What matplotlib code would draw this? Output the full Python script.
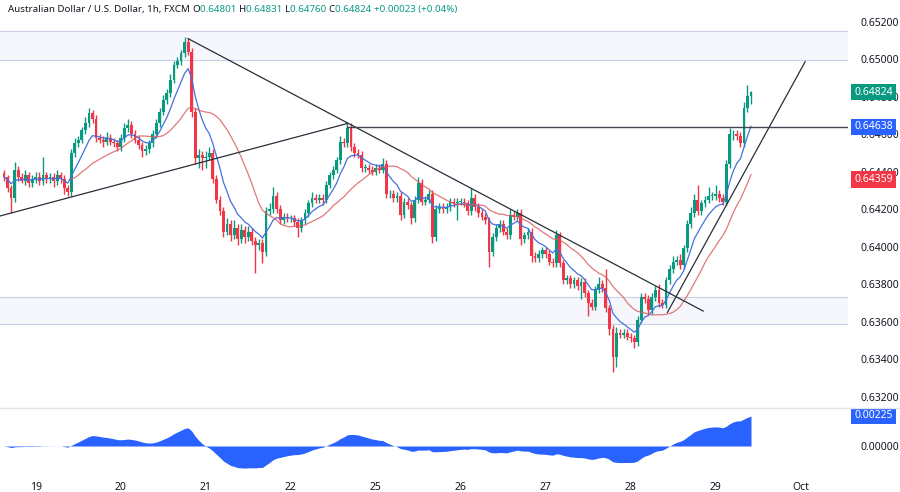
import numpy as np
import pandas as pd
import matplotlib
matplotlib.use("Agg")
import matplotlib.pyplot as plt
import matplotlib.transforms as mtrans
from matplotlib.lines import Line2D

plt.rcParams['font.family'] = ['Noto Sans', 'DejaVu Sans']

############################################################################
# Data : AUD/USD 1h, FXCM.  prices written as pips above BASE
############################################################################
BASE = 0.6400

first_open = 39
c18 = [37, 31, 26, 41, 37, 35, 38, 34, 36]
c19 = [37, 35, 38, 36, 37, 35, 38, 36, 31, 29, 50, 55, 57, 62, 66, 71,
       68, 58, 57, 56, 58, 56, 55, 53]
c20 = [58, 63, 65, 60, 57, 54, 51, 52, 55, 60, 66, 72, 78, 82, 89, 97,
       99, 103, 109, 104, 72, 47, 49, 47]
c21 = [48, 50, 36, 25, 19, 8, 12, 6, 10, 4, 9, 5, 8, 3, 1, 2,
       -3, 19, 20, 27, 20, 14, 16, 15]
c22 = [15, 13, 10, 14, 18, 23, 26, 25, 26, 25, 33, 38, 41, 46, 56, 55,
       63, 53, 50, 49, 42, 42, 41, 40]
c25 = [42, 41, 44, 28, 28, 26, 27, 17, 24, 22, 15, 25, 34, 24, 25, 28,
       5, 20, 21, 20, 21, 24, 23, 24]
c26 = [24, 23, 19, 26, 21, 18, 16, 14, -3, 5, 10, 12, 8, 6, 17, 16,
       18, 4, 6, 8, -5, -6, -4, -2]
c27 = [-4, -8, -9, 6, -9, -18, -17, -20, -18, -21, -19, -25, -30, -32, -23, -20,
       -22, -33, -44, -59, -46, -47, -46, -48]
c28 = [-49, -51, -39, -27, -28, -34, -27, -23, -30, -31, -18, -12, -8, -7, -10, -1,
       12, 18, 25, 19, 23, 25, 27, 27]
c29 = [28, 26, 24, 44, 60, 60, 59, 55, 74, 80.1, 82.4]

# wick length above / below the body (pips)
u18 = [2, 1, 2, 4, 2, 2, 3, 2, 2]
d18 = [2, 2, 8, 2, 2, 1, 2, 2, 2]
u19 = [3, 3, 10, 2, 2, 2, 3, 2, 2, 2, 2, 3, 2, 2, 3, 3, 2, 2, 2, 2, 3, 2, 2, 2]
d19 = [2, 2, 2, 2, 2, 3, 2, 2, 3, 2, 2, 2, 2, 2, 2, 2, 2, 2, 2, 3, 2, 2, 2, 2]
u20 = [2, 3, 3, 2, 2, 2, 2, 2, 2, 2, 2, 2, 3, 2, 3, 2, 2, 2, 3, 2, 2, 2, 3, 2]
d20 = [2, 2, 2, 2, 2, 2, 3, 2, 2, 2, 2, 2, 2, 2, 2, 2, 2, 2, 2, 2, 3, 3, 5, 6]
u21 = [3, 3, 2, 2, 2, 2, 3, 2, 4, 2, 3, 2, 3, 2, 2, 2, 2, 2, 3, 5, 2, 2, 2, 2]
d21 = [5, 2, 2, 2, 2, 3, 2, 3, 2, 3, 2, 3, 2, 2, 15, 3, 6, 2, 2, 2, 2, 2, 2, 2]
u22 = [2, 2, 2, 2, 2, 2, 3, 2, 2, 2, 2, 2, 2, 2, 3, 2, 3, 3, 2, 2, 2, 2, 2, 2]
d22 = [2, 2, 5, 2, 2, 2, 2, 2, 2, 3, 2, 2, 2, 2, 2, 2, 2, 2, 2, 2, 2, 2, 2, 2]
u25 = [2, 2, 3, 2, 2, 2, 2, 2, 2, 2, 2, 2, 3, 2, 2, 2, 2, 2, 2, 2, 2, 2, 2, 2]
d25 = [2, 2, 2, 2, 2, 2, 2, 3, 2, 2, 3, 2, 2, 2, 2, 2, 3, 2, 2, 2, 2, 2, 2, 9]
u26 = [2, 2, 2, 5, 2, 2, 2, 2, 2, 2, 2, 2, 2, 2, 3, 2, 2, 2, 2, 2, 2, 2, 2, 2]
d26 = [2, 2, 2, 2, 2, 2, 2, 2, 8, 2, 2, 2, 2, 2, 2, 2, 2, 3, 2, 2, 3, 2, 2, 2]
u27 = [2, 2, 2, 3, 2, 2, 2, 2, 2, 2, 2, 2, 2, 2, 2, 4, 2, 10, 2, 2, 3, 2, 2, 2]
d27 = [2, 2, 2, 2, 2, 2, 2, 2, 2, 2, 7, 2, 7, 2, 2, 2, 2, 2, 3, 8, 5, 2, 2, 2]
u28 = [2, 2, 2, 2, 2, 2, 2, 2, 3, 2, 2, 2, 3, 2, 3, 2, 2, 3, 3, 8, 2, 2, 5, 2]
d28 = [2, 3, 2, 2, 2, 2, 2, 2, 2, 2, 2, 2, 2, 2, 2, 2, 2, 2, 2, 2, 2, 2, 2, 2]
u29 = [5, 2, 2, 2, 3, 2, 2, 2, 3, 6, 0.7]
d29 = [2, 2, 2, 2, 2, 3, 2, 2, 2, 2, 4.1]

day_labels = ['19', '20', '21', '22', '25', '26', '27', '28', '29', 'Oct']
day_start = [9, 33, 57, 81, 105, 129, 153, 177, 201, 225]

# drawings (bar index, pips)
trend_lines = [[(52.0, 110.9), (197.5, -34.4)],
               [(-1.13, 16.3), (96.9, 65.6)],
               [(187.4, -35.1), (226.3, 98.6)]]
hline_start, hline_level = 96.9, 63.8
zones = [(99.5, 114.9), (-41.3, -26.9)]

price_boxes = [(0.64824, '#089981'), (0.64638, '#2962FF'), (0.64359, '#F23645')]
macd_last = 0.00225

title_parts = [("Australian Dollar / U.S. Dollar, 1h, FXCM ", '#131722'),
               ("O", '#131722'), ("0.64801 ", '#089981'),
               ("H", '#131722'), ("0.64831 ", '#089981'),
               ("L", '#131722'), ("0.64760 ", '#089981'),
               ("C", '#131722'), ("0.64824 ", '#089981'),
               ("+0.00023 (+0.04%)", '#089981')]

############################################################################

close_p = np.array(c18 + c19 + c20 + c21 + c22 + c25 + c26 + c27 + c28 + c29, dtype=float)
up_w = np.array(u18 + u19 + u20 + u21 + u22 + u25 + u26 + u27 + u28 + u29, dtype=float)
dn_w = np.array(d18 + d19 + d20 + d21 + d22 + d25 + d26 + d27 + d28 + d29, dtype=float)
open_p = np.r_[first_open, close_p[:-1]]
high_p = np.maximum(open_p, close_p) + up_w
low_p = np.minimum(open_p, close_p) - dn_w

o = BASE + open_p / 1e4
c = BASE + close_p / 1e4
h = BASE + high_p / 1e4
l = BASE + low_p / 1e4
idx = np.arange(len(c))

s = pd.Series(c)
ma_fast = s.ewm(span=8, adjust=False).mean()
ma_slow = s.rolling(20).mean()
macd = s.ewm(span=12, adjust=False).mean() - s.ewm(span=26, adjust=False).mean()

UP, DOWN = '#089981', '#F23645'
cols = np.where(c >= o, UP, DOWN)

fig = plt.figure(figsize=(9, 4.92), dpi=100)
fig.patch.set_facecolor('white')

ax = fig.add_axes([0, 1 - 408 / 492, 848 / 900, 408 / 492])
ax2 = fig.add_axes([0, 1 - 474 / 492, 848 / 900, 66 / 492])

x_lo, x_hi = -1.13, 238.4
ax.set_xlim(x_lo, x_hi)
ax.set_ylim(BASE - 86.1 / 1e4, BASE + 131.5 / 1e4)

# zones
for z0, z1 in zones:
    ax.axhspan(BASE + z0 / 1e4, BASE + z1 / 1e4, color='#F5F7FC', lw=0, zorder=0)
    for zz in (z0, z1):
        ax.axhline(BASE + zz / 1e4, color='#C8D0E2', lw=0.8, zorder=0.5)

# candles
ax.vlines(idx, l, h, colors=cols, lw=1.0, zorder=2)
body = np.maximum(np.abs(c - o), 0.00003)
ax.bar(idx, body, bottom=np.minimum(o, c), width=0.8, color=cols, lw=0, zorder=2.1)

# moving averages
ax.plot(idx, ma_fast, color='#4470E0', lw=0.9, zorder=2.5)
ax.plot(idx, ma_slow, color='#D9575A', lw=0.9, alpha=0.8, zorder=2.5)

# drawings
for (xa, ya), (xb, yb) in trend_lines:
    ax.plot([xa, xb], [BASE + ya / 1e4, BASE + yb / 1e4], color='#2A2E39', lw=0.9, zorder=3)
ax.plot([hline_start, x_hi], [BASE + hline_level / 1e4] * 2, color='#434651', lw=1.0, zorder=3)

# price axis
ax.yaxis.tick_right()
ax.set_yticks(np.arange(0.632, 0.6521, 0.002))
ax.yaxis.set_major_formatter(matplotlib.ticker.FormatStrFormatter('%.5f'))
ax.tick_params(axis='y', length=0, pad=9, labelsize=7.5, labelcolor='#131722')
ax.set_xticks([])
for sp in ax.spines.values():
    sp.set_visible(False)

blend = mtrans.blended_transform_factory(ax.transAxes, ax.transData)
for val, colr in price_boxes:
    ax.text(1.0075, val, '%.5f' % val, transform=blend, ha='left', va='center',
            color='white', fontsize=7.5, clip_on=False, zorder=10,
            bbox=dict(boxstyle='square,pad=0.28', fc=colr, ec='none'))

# indicator panel
ax2.set_xlim(x_lo, x_hi)
ax2.set_ylim(-0.0021, 0.00285)
ax2.fill_between(idx, 0, macd, color='#2962FF', lw=0)
ax2.yaxis.tick_right()
ax2.set_yticks([0.0])
ax2.yaxis.set_major_formatter(matplotlib.ticker.FormatStrFormatter('%.5f'))
ax2.tick_params(axis='y', length=0, pad=9, labelsize=7.5, labelcolor='#131722')
ax2.set_xticks(day_start)
ax2.set_xticklabels(day_labels)
ax2.tick_params(axis='x', length=0, pad=6, labelsize=7.5, labelcolor='#131722')
for sp in ax2.spines.values():
    sp.set_visible(False)
blend2 = mtrans.blended_transform_factory(ax2.transAxes, ax2.transData)
ax2.text(1.0075, macd_last, '%.5f' % macd_last, transform=blend2, ha='left', va='center',
         color='white', fontsize=7.5, clip_on=False, zorder=10,
         bbox=dict(boxstyle='square,pad=0.28', fc='#2962FF', ec='none'))

# panel separator
fig.add_artist(Line2D([0, 1], [1 - 408 / 492] * 2, transform=fig.transFigure,
                      color='#E0E3EB', lw=1))

# header line
fig.canvas.draw()
r = fig.canvas.get_renderer()
xpos = 8
for txt, colr in title_parts:
    t = fig.text(xpos / 900, 1 - 9.5 / 492, txt, color=colr, fontsize=7,
                 ha='left', va='center')
    xpos += t.get_window_extent(renderer=r).width

fig.savefig('out.png', dpi=100, facecolor='white')
